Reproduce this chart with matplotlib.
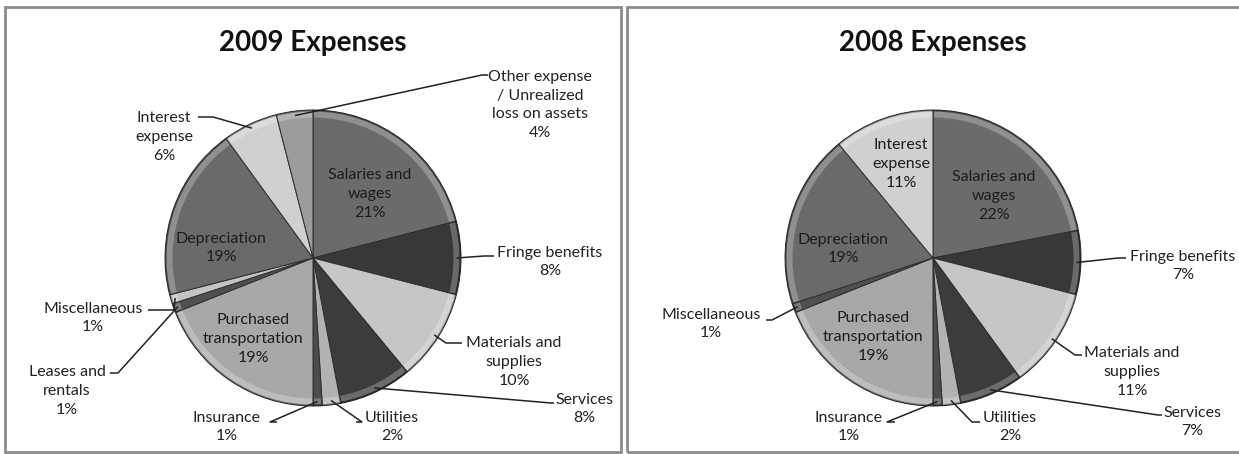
import numpy as np
import matplotlib.pyplot as plt
from matplotlib.patches import Rectangle, Wedge

plt.rcParams['font.family'] = ['Lato', 'DejaVu Sans']

# expense categories and their share of the total (percent)
cats_2009 = ['Salaries and\nwages', 'Fringe benefits', 'Materials and\nsupplies', 'Services',
             'Utilities', 'Insurance', 'Purchased\ntransportation', 'Leases and\nrentals',
             'Miscellaneous', 'Depreciation', 'Interest\nexpense',
             'Other expense\n/ Unrealized\nloss on assets']
pct_2009 = [21, 8, 10, 8, 2, 1, 19, 1, 1, 19, 6, 4]
grey_2009 = ['#6b6b6b', '#383838', '#c6c6c6', '#3c3c3c', '#b2b2b2', '#4c4c4c',
             '#a8a8a8', '#505050', '#c4c4c4', '#6a6a6a', '#d0d0d0', '#9c9c9c']

cats_2008 = ['Salaries and\nwages', 'Fringe benefits', 'Materials and\nsupplies', 'Services',
             'Utilities', 'Insurance', 'Purchased\ntransportation', 'Miscellaneous',
             'Depreciation', 'Interest\nexpense']
pct_2008 = [22, 7, 11, 7, 2, 1, 19, 1, 19, 11]
grey_2008 = ['#6b6b6b', '#383838', '#c6c6c6', '#3c3c3c', '#b2b2b2', '#4c4c4c',
             '#a8a8a8', '#505050', '#6a6a6a', '#d0d0d0']

W, H = 1239, 454
R = 148

# label placement, y measured from the top edge
# ('in', x, y) -> inside the slice; ('out', x, y, hook_x, hook_y, stub_x) -> outside with leader
place_2009 = [
    ('in', 370, 194),
    ('out', 550, 262, 484, 256, 494),
    ('out', 514, 362, 446, 343, 462),
    ('out', 584, 409, 551, 403, 554),
    ('out', 392, 427, 362, 422, 356),
    ('out', 227, 427, 270, 422, 277),
    ('in', 253, 339),
    ('out', 67, 391, 118, 373, 110),
    ('out', 93, 318, 174, 310, 148),
    ('in', 221, 248),
    ('out', 164, 137, 213, 117, 198),
    ('out', 540, 105, 482, 75, 488),
]
place_2008 = [
    ('in', 994, 196),
    ('out', 1183, 266, 1118, 258, 1126),
    ('out', 1132, 372, 1075, 355, 1082),
    ('out', 1192, 422, 1158, 415, 1162),
    ('out', 1010, 427, 972, 422, 980),
    ('out', 849, 427, 887, 422, 895),
    ('in', 873, 337),
    ('out', 711, 324, 772, 320, 766),
    ('in', 843, 249),
    ('in', 901, 164),
]


def fy(y):
    return H - y


fig = plt.figure(figsize=(W / 100, H / 100), dpi=100)
ax = fig.add_axes([0, 0, 1, 1])


def draw_pie(cats, pct, greys, place, cx, cy, title):
    center = (cx, fy(cy))
    wedges, _ = ax.pie(pct, colors=greys, startangle=90, counterclock=False,
                       center=center, radius=R, frame=True,
                       wedgeprops=dict(edgecolor='#2e2e2e', linewidth=0.7))
    # soft bevel along the rim of every slice
    for w in wedges:
        ax.add_patch(Wedge(center, R - 1.5, w.theta1 + 0.4, w.theta2 - 0.4, width=6,
                           facecolor='white', alpha=0.25, edgecolor='none'))
        ax.add_patch(Wedge(center, R, w.theta1, w.theta2, width=1.5,
                           facecolor='black', alpha=0.3, edgecolor='none'))
    for w, cat, p, pl in zip(wedges, cats, pct, place):
        txt = f'{cat}\n{p}%'
        if pl[0] == 'in':
            ax.text(pl[1], fy(pl[2]), txt, ha='center', va='center', fontsize=11.5,
                    linespacing=1.45, color='#1c1c1c')
            continue
        _, tx, ty, hx, hy, sx = pl
        mid = np.deg2rad((w.theta1 + w.theta2) / 2)
        px, py = center[0] + R * 0.97 * np.cos(mid), center[1] + R * 0.97 * np.sin(mid)
        ax.plot([px, hx, sx], [py, fy(hy), fy(hy)], color='#222222', lw=1.1,
                solid_capstyle='butt')
        ax.text(tx, fy(ty), txt, ha='center', va='center', fontsize=11.5,
                linespacing=1.45, color='#222222')
    ax.text(cx, fy(43), title, ha='center', va='center', fontsize=20,
            fontweight='bold', color='#111111')


draw_pie(cats_2009, pct_2009, grey_2009, place_2009, 313, 258, '2009 Expenses')
draw_pie(cats_2008, pct_2008, grey_2008, place_2008, 933, 258, '2008 Expenses')

# chart frames
for x0, x1 in [(5, 621), (627, 1250)]:
    ax.add_patch(Rectangle((x0, fy(452)), x1 - x0, 445, fill=False,
                           edgecolor='#8c8c8c', linewidth=2))

ax.set_xlim(0, W)
ax.set_ylim(0, H)
ax.axis('off')

fig.savefig('out.png', dpi=100, facecolor='white')
